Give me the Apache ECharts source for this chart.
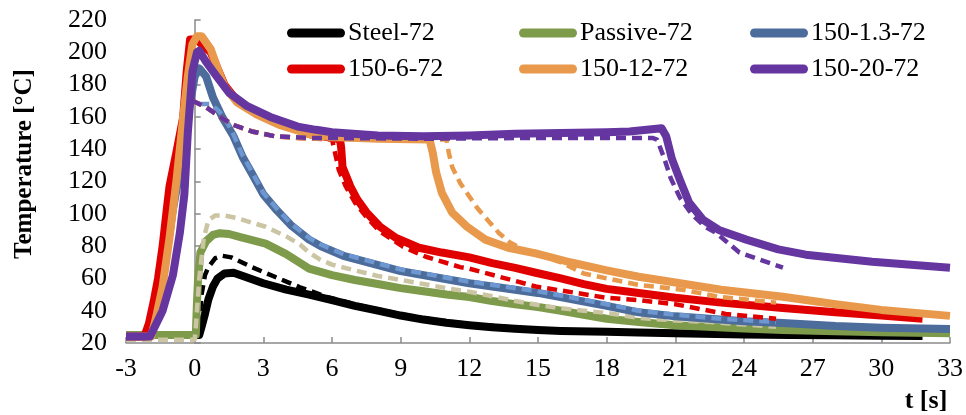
<!DOCTYPE html>
<html><head><meta charset="utf-8">
<script src="https://cdn.jsdelivr.net/npm/echarts@6/dist/echarts.min.js"></script>
<style>html,body{margin:0;padding:0;background:#fff}#c{width:966px;height:415px}</style>
</head><body><div id="c"></div>
<script>
// ---------- data (t [s], T [°C]) ----------
const legendNames = ['Steel-72', 'Passive-72', '150-1.3-72', '150-6-72', '150-12-72', '150-20-72'];

const steelExp = [[-3,25],[0.2,25],[0.3,30],[0.45,38],[0.6,47],[0.8,55],[1.0,60],[1.3,63],[1.7,63.5],[2.2,61],[3,57],[4,53],[5,50],[6,46.5],[7,43],[8,40],[9,37],[10,34.5],[11,32.5],[12,31],[13,29.8],[14,28.8],[15,28],[16,27.5],[18,27],[19.4,26.5],[21,26],[24,25.3],[26,25],[28,24.8],[30,24.5],[31.8,24.4]];
const steelSim = [[0.2,30],[0.3,50],[0.45,62],[0.6,67],[0.9,72.5],[1.2,74],[1.6,73],[2.5,67],[3.5,61],[4.6,54.5],[5.9,48],[7,44],[8,40.8],[9,37.8],[10,35.3],[12,31.6],[15,28.4],[18,27.2],[21,26.3],[24,25.5],[25.5,25.2]];

const passiveExp = [[-3,25],[0.05,25],[0.1,45],[0.15,60],[0.25,76],[0.5,83],[0.8,87],[1.1,88],[1.5,87.5],[2,85.5],[3.1,81.5],[4,75],[5,66],[5.5,64],[6,62],[7,59],[8,56.5],[9,54],[10,52],[11,50],[12,48.5],[13,46],[14,44],[15,42.3],[16,40],[17,37.5],[18,35],[19.4,33],[21,31],[24,29],[25.7,28],[28,27.2],[30,26.6],[33,26]];
const passiveSim = [[-3,22],[0,22],[0.05,30],[0.2,60],[0.4,85],[0.6,96],[0.9,99],[1.3,99],[1.8,97.5],[3.1,92],[4,86],[4.6,81],[5,76],[5.5,71.5],[6,68.5],[7,65],[8,61.5],[9,59],[10,56.5],[11,54],[12,51.7],[13,49],[14,46],[15,43.5],[16,41.5],[17,40],[18,38.6],[19.4,35.5],[21,34],[22.3,33.2],[24,31.5],[25.4,30]];

const s13Exp = [[-3,24],[-2.1,24],[-1.8,40],[-1.5,55],[-1.2,78],[-0.95,103],[-0.6,130],[-0.3,160],[0,185],[0.2,190],[0.5,185],[0.8,172],[1.2,160],[1.7,148],[2.1,135],[2.5,125],[3,112],[3.6,102],[4.2,93],[5,84],[5.5,80],[6.5,74],[9,64.5],[12,57],[15,51],[18,43],[19.4,39],[21,36.5],[24,33.5],[25.7,32.4],[28,30.5],[30,29.5],[33,28.7]];
const s13Sim = [[0.2,168],[0.7,168],[1.1,163],[1.4,157],[1.7,149],[2.1,136],[2.5,126],[3,113],[3.6,103],[4.2,94],[5,85],[5.5,81],[6.5,75],[9,65.5],[12,58],[15,52],[18,44],[19.4,40],[21,37.5],[23,35],[25.4,33]];

const s6Exp = [[-3,24],[-2.2,24],[-2.0,32],[-1.8,45],[-1.6,60],[-1.4,80],[-1.2,105],[-1.1,117],[-0.8,138],[-0.5,160],[-0.35,188],[-0.2,208],[0.1,208],[0.3,205],[0.7,200],[1.0,190],[1.3,180],[1.85,170],[2.7,162],[3.7,156],[5.1,149],[6,147],[6.35,146],[6.4,141],[6.46,129],[6.8,117],[7.1,109],[7.5,101],[8.1,92],[8.8,85],[9.8,79],[10.8,76],[12,73],[13,69.5],[14,66.5],[14.9,63.5],[16,60],[17,56.5],[18,53.5],[19.4,51],[21,48],[23,45],[25.7,41.7],[28,39],[30,37],[31.8,35]];
const s6Sim = [[-0.1,170],[0.5,166],[1.1,160],[1.7,155],[2.5,151],[3.5,148],[4.5,147],[6.0,146],[6.1,140],[6.3,127],[6.6,117],[7.0,107],[7.5,98],[8.1,89],[9.1,79.6],[10.1,73.4],[11.6,67],[12,66],[14.9,55],[18,48],[19.4,46.5],[21,44],[23.2,38],[25.4,35]];

const s12Exp = [[-3,24],[-1.9,24],[-1.7,35],[-1.4,55],[-1.1,85],[-0.8,120],[-0.5,160],[-0.3,185],[-0.1,205],[0.1,210],[0.3,210],[0.7,202],[1,190],[1.3,179],[1.85,169],[2.7,161.6],[3.7,155],[5.1,149],[6,147.5],[8,146.5],[10.26,146],[10.4,138],[10.55,125.6],[10.8,113],[11.25,100.7],[11.9,92],[12.7,84],[13.7,79],[14.9,75.5],[16.4,70],[18,65],[19.4,61],[21,57.5],[23,53],[25.7,48.6],[28,44],[30,40.5],[33,36.8]];
const s12Sim = [[-0.1,170],[0.5,166],[1.1,160],[1.7,155],[2.5,151],[3.5,148],[5,146.5],[8,146],[11,146],[11.1,138],[11.25,129],[11.6,119],[12,110.7],[12.4,102.6],[12.9,94.5],[13.3,88],[13.8,82],[14.5,77],[16,70],[17,63],[18,60],[19.4,56],[21.3,53],[22.9,48.6],[25.4,45]];

const s20Exp = [[-3,24],[-1.95,24],[-1.4,40],[-0.95,62],[-0.65,88],[-0.45,112],[-0.3,150],[-0.1,188],[0.1,200],[0.2,201],[0.5,194],[0.97,185],[1.5,175],[2.3,166.6],[3.3,160],[4.5,154],[5.3,152],[6,150.5],[8,148.5],[10,148],[12,148.5],[14,149.5],[16,150],[18,150.5],[19,151],[20.4,153],[20.6,148],[20.85,134],[21.2,121],[21.6,107],[22.2,96.4],[22.9,90],[24.1,84],[25.5,78],[26.7,74.7],[29.6,70.3],[33,66.6]];
const s20Sim = [[-0.1,170],[0.5,166],[1.1,160],[1.7,155],[2.5,151],[3.5,148],[5,147],[10,146.5],[15,147],[20,147],[20.2,146],[20.5,135],[20.8,122],[21.2,110],[21.7,100],[22.3,92],[22.8,88],[23.8,76],[25.7,66.6]];

// ---------- styling ----------
const FONT = 'Liberation Serif';
const expColors = ['#000000', '#7e9b4b', '#4c6c9c', '#e00000', '#e8994b', '#6535a0'];
const simColors = ['#000000', '#cbc5a4', '#6d97d1', '#e00000', '#e8994b', '#6535a0'];
const expData = [steelExp, passiveExp, s13Exp, s6Exp, s12Exp, s20Exp];
const simData = [steelSim, passiveSim, s13Sim, s6Sim, s12Sim, s20Sim];

const series = [];
legendNames.forEach((n, i) => {
  series.push({
    name: n, type: 'line', data: expData[i], showSymbol: false, symbol: 'none',
    itemStyle: { color: expColors[i] },
    lineStyle: { color: expColors[i], width: 8, join: 'round' },
    silent: true
  });
  series.push({
    name: n + ' sim', type: 'line', data: simData[i], showSymbol: false, symbol: 'none',
    itemStyle: { color: simColors[i] },
    lineStyle: { color: simColors[i], width: 4.5, type: [10, 6], join: 'round' },
    silent: true
  });
});

const colX = [287, 519, 750];
const rowY = [20, 56];
const legends = legendNames.map((n, i) => ({
  data: [n], left: colX[i % 3], top: rowY[Math.floor(i / 3)],
  icon: 'path://M4.5,0H53.5A4.5,4.5,0,0,1,53.5,9H4.5A4.5,4.5,0,0,1,4.5,0Z',
  itemWidth: 58, itemHeight: 9, itemGap: 0, padding: 0,
  itemStyle: { borderWidth: 0 },
  textStyle: { fontFamily: FONT, fontSize: 26, color: '#000', padding: [0, 0, 0, -2] },
  selectedMode: false
}));

const axisColor = '#8a8a8a';
const chart = echarts.init(document.getElementById('c'), null, { renderer: 'canvas' });
chart.setOption({
  animation: false,
  backgroundColor: '#fff',
  grid: { left: 126, right: 14, top: 20, bottom: 72, containLabel: false },
  legend: legends,
  xAxis: {
    type: 'value', min: -3, max: 33, interval: 3,
    axisLine: { show: true, lineStyle: { color: axisColor, width: 1.5 } },
    axisTick: { show: true, inside: true, length: 6, lineStyle: { color: axisColor, width: 1.5 } },
    axisLabel: { fontFamily: FONT, fontSize: 26, color: '#000', margin: 13 },
    splitLine: { show: false }
  },
  yAxis: {
    type: 'value', min: 20, max: 220, interval: 20,
    axisLine: { show: true, lineStyle: { color: axisColor, width: 1.5 } },
    axisTick: { show: true, inside: true, length: 6, lineStyle: { color: axisColor, width: 1.5 } },
    axisLabel: { fontFamily: FONT, fontSize: 26, color: '#000', margin: 19 },
    splitLine: { show: false }
  },
  graphic: [
    { type: 'text', x: 25, y: 164, rotation: Math.PI / 2,
      style: { text: 'Temperature [°C]', fontFamily: FONT, fontSize: 25, fontWeight: 'bold', fill: '#000', textAlign: 'center', textVerticalAlign: 'middle' } },
    { type: 'text', x: 926, y: 401,
      style: { text: 't [s]', fontFamily: FONT, fontSize: 26, fontWeight: 'bold', fill: '#000', textAlign: 'center', textVerticalAlign: 'middle' } }
  ],
  series: series
});
</script>
</body></html>
